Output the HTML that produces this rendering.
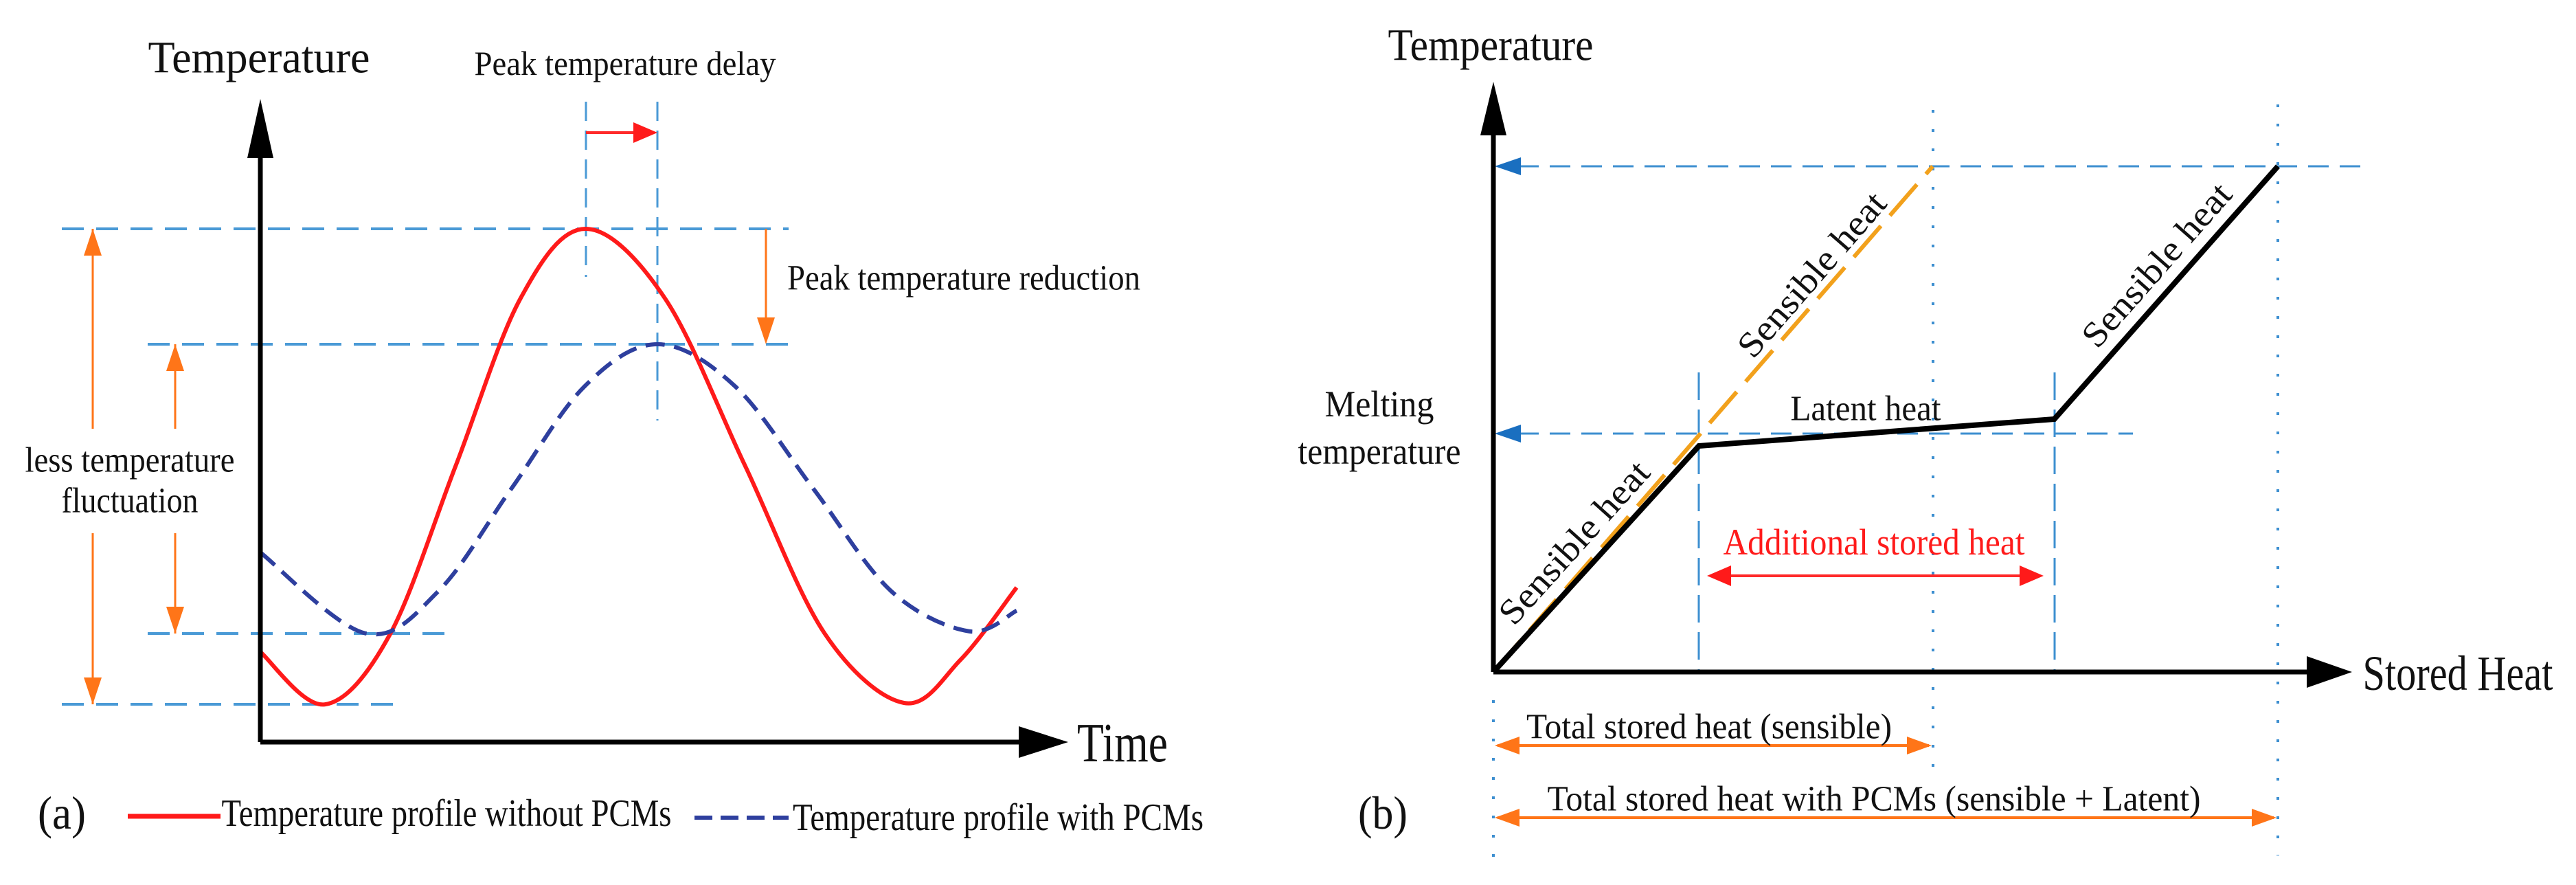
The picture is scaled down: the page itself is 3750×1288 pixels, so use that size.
<!DOCTYPE html>
<html><head><meta charset="utf-8"><style>
html,body{margin:0;padding:0;background:#fff;}
svg{display:block;font-family:"Liberation Serif",serif;}
text{font-family:"Liberation Serif",serif;}
</style></head><body>
<svg id="fig" width="3750" height="1288" viewBox="0 0 3750 1288">
<g id="panelA"></g>
<g id="panelB"></g>
</svg>
<script>
// ---- Panel (a) data ----
const timeNoPcm = [0, 0.85, 1.71, 2.58, 3.44, 4.3, 5.35, 6.41, 7.46, 8.51, 9.26, 10];
const tempNoPcm = [17.5, 7.3, 20.8, 53.5, 86.1, 99.6, 86.1, 53.6, 21.1, 7.6, 16, 30];
const timePcm = [0, 1.39, 2.355, 3.32, 4.285, 5.25, 6.28, 7.31, 8.34, 9.37, 10];
const tempPcm = [36.8, 21.1, 29.3, 49.2, 69, 77.2, 69, 49.2, 29.3, 21.5, 25.5];
const legendLabels = ["Temperature profile without PCMs", "Temperature profile with PCMs"];
// ---- Panel (b) data ----
const heatPcm = [0, 2.62, 7.15, 10];
const tempHeatPcm = [0, 44.7, 50, 100];
const heatSensible = [0, 5.6];
const tempHeatSensible = [0, 100];

const NS = "http://www.w3.org/2000/svg";
function mk(parent, tag, attrs, text) {
  const e = document.createElementNS(NS, tag);
  for (const k in attrs) e.setAttribute(k, attrs[k]);
  if (text !== undefined) e.textContent = text;
  parent.appendChild(e);
  return e;
}
function txt(parent, x, y, s, size, w, name, fill, rot) {
  const a = {x: x, y: y, "font-size": size, "text-anchor": "middle", "dominant-baseline": "central", fill: fill || "#111", "font-family": "Liberation Serif, serif"};
  if (w) { a.textLength = w; a.lengthAdjust = "spacingAndGlyphs"; }
  if (rot) a.transform = "rotate(" + rot + " " + x + " " + y + ")";
  const t = mk(parent, "text", a, s);
  
  
  return t;
}
function line(parent, x1, y1, x2, y2, stroke, sw, dash, name) {
  const a = {x1: x1, y1: y1, x2: x2, y2: y2, stroke: stroke, "stroke-width": sw};
  if (dash) a["stroke-dasharray"] = dash;
  const l = mk(parent, "line", a);
  
  
  return l;
}
function tri(parent, pts, fill, name) {
  const p = mk(parent, "polygon", {points: pts, fill: fill});
  
  
}
function spline(pts) {
  let d = "M" + pts[0][0] + "," + pts[0][1];
  for (let i = 0; i < pts.length - 1; i++) {
    const p0 = pts[Math.max(0, i - 1)], p1 = pts[i], p2 = pts[i + 1], p3 = pts[Math.min(pts.length - 1, i + 2)];
    const c1x = p1[0] + (p2[0] - p0[0]) / 6, c1y = p1[1] + (p2[1] - p0[1]) / 6;
    const c2x = p2[0] - (p3[0] - p1[0]) / 6, c2y = p2[1] - (p3[1] - p1[1]) / 6;
    d += " C" + c1x + "," + c1y + " " + c2x + "," + c2y + " " + p2[0] + "," + p2[1];
  }
  return d;
}

// ===== Panel A =====
const A = document.getElementById("panelA");
const ax = t => 379 + t * 110.1;
const ay = v => 1080 - v * 7.5;
const LB = "#4a9ad6";
line(A, 90, 333, 1148, 333, LB, 4, "32 18", "peak-guide-no-pcm");
line(A, 215, 501, 1148, 501, LB, 4, "32 18", "peak-guide-pcm");
line(A, 215, 922, 658, 922, LB, 4, "32 18", "min-guide-pcm");
line(A, 90, 1025, 586, 1025, LB, 4, "32 18", "min-guide-no-pcm");
line(A, 853, 148, 853, 403, LB, 3, "28 14", "peak-time-guide-no-pcm");
line(A, 957, 148, 957, 612, LB, 3, "28 14", "peak-time-guide-pcm");
line(A, 853, 193, 925, 193, "#ff2a2a", 4, null, "delay-arrow-shaft");
tri(A, "957,193 922,178 922,208", "#ff1a1a", "delay-arrow-head");
line(A, 135, 1025, 135, 776, "#ff7518", 3, null, "fluct-arrow-outer-down");
line(A, 135, 333, 135, 624, "#ff7518", 3, null, "fluct-arrow-outer-up");
tri(A, "135,333 122,372 148,372", "#ff7518", "fluct-outer-head-top");
tri(A, "135,1025 122,986 148,986", "#ff7518", "fluct-outer-head-bottom");
line(A, 255, 922, 255, 776, "#ff7518", 3, null, "fluct-arrow-inner-down");
line(A, 255, 501, 255, 624, "#ff7518", 3, null, "fluct-arrow-inner-up");
tri(A, "255,501 242,540 268,540", "#ff7518", "fluct-inner-head-top");
tri(A, "255,922 242,883 268,883", "#ff7518", "fluct-inner-head-bottom");
line(A, 1115, 333, 1115, 470, "#ff7518", 3, null, "reduction-arrow");
tri(A, "1115,501 1102,462 1128,462", "#ff7518", "reduction-arrow-head");
const redPts = timeNoPcm.map((t, i) => [ax(t), ay(tempNoPcm[i])]);
const bluePts = timePcm.map((t, i) => [ax(t), ay(tempPcm[i])]);
const rc = mk(A, "path", {d: spline(redPts), fill: "none", stroke: "#ff1a1a", "stroke-width": 6});


const bc = mk(A, "path", {d: spline(bluePts), fill: "none", stroke: "#2e3f9e", "stroke-width": 6, "stroke-dasharray": "28 14"});


line(A, 379, 1080, 1490, 1080, "#000", 7, null, "time-axis");
tri(A, "1555,1080 1483,1057 1483,1103", "#000", "time-axis-arrow");
line(A, 379, 1080, 379, 210, "#000", 7, null, "temperature-axis");
tri(A, "379,144 360,230 398,230", "#000", "temperature-axis-arrow");
txt(A, 377, 84, "Temperature", 66, 323, "y-axis-title-a");
txt(A, 910, 92, "Peak temperature delay", 50, 439, "peak-delay-label");
txt(A, 1403, 405, "Peak temperature reduction", 52, 514, "peak-reduction-label");
txt(A, 189, 670, "less temperature", 52, 305, "fluctuation-label-line1");
txt(A, 189, 729, "fluctuation", 52, 199, "fluctuation-label-line2");
txt(A, 1634, 1082, "Time", 80, 132, "x-axis-title-a");
txt(A, 90, 1183, "(a)", 68, 70, "panel-a-label");
line(A, 186, 1188, 321, 1188, "#ff1a1a", 7, null, "legend-swatch-no-pcm");
txt(A, 650, 1184, legendLabels[0], 56, 655, "legend-label-no-pcm");
line(A, 1011, 1190, 1148, 1190, "#2e3f9e", 6, "26 12", "legend-swatch-pcm");
txt(A, 1453, 1190, legendLabels[1], 56, 598, "legend-label-pcm");

// ===== Panel B =====
const B = document.getElementById("panelB");
const bx = h => 2174 + h * 114.2;
const by = v => 978 - v * 7.36;
const BB = "#3d8fd0";
line(B, 2814, 160, 2814, 1122, BB, 4, "4 24", "dotted-sensible-total");
line(B, 3316, 152, 3316, 1245, BB, 4, "4 24", "dotted-pcm-total");
line(B, 2174, 1019, 2174, 1249, BB, 4, "4 24", "dotted-origin");
line(B, 2210, 242, 3436, 242, BB, 3, "30 16", "max-temp-guide");
line(B, 2210, 631, 3105, 631, BB, 3, "30 16", "melting-temp-guide");
tri(B, "2176,242 2214,229 2214,255", "#1a6fc0", "max-temp-arrow");
tri(B, "2176,631 2214,618 2214,644", "#1a6fc0", "melting-temp-arrow");
line(B, 2473, 542, 2473, 978, BB, 3, "40 14", "melt-start-guide");
line(B, 2991, 542, 2991, 978, BB, 3, "40 14", "melt-end-guide");
const op = heatSensible.map((h, i) => bx(h) + "," + by(tempHeatSensible[i])).join(" ");
const ol = mk(B, "polyline", {points: op, fill: "none", stroke: "#f2a11c", "stroke-width": 6, "stroke-dasharray": "60 20"});


const kp = heatPcm.map((h, i) => bx(h) + "," + by(tempHeatPcm[i])).join(" ");
const kl = mk(B, "polyline", {points: kp, fill: "none", stroke: "#000", "stroke-width": 8, "stroke-linejoin": "miter"});


line(B, 2174, 978, 3365, 978, "#000", 7, null, "stored-heat-axis");
tri(B, "3424,978 3358,955 3358,1001", "#000", "stored-heat-axis-arrow");
line(B, 2174, 978, 2174, 190, "#000", 7, null, "temperature-axis-b");
tri(B, "2174,119 2155,197 2193,197", "#000", "temperature-axis-b-arrow");
line(B, 2515, 838, 2945, 838, "#ff2a2a", 4, null, "additional-heat-arrow");
tri(B, "2485,838 2520,823 2520,853", "#ff1a1a", "additional-heat-head-left");
tri(B, "2975,838 2940,823 2940,853", "#ff1a1a", "additional-heat-head-right");
line(B, 2180, 1085, 2808, 1085, "#ff7518", 4, null, "total-sensible-arrow");
tri(B, "2176,1085 2212,1072 2212,1098", "#ff7518", "total-sensible-head-left");
tri(B, "2812,1085 2776,1072 2776,1098", "#ff7518", "total-sensible-head-right");
line(B, 2180, 1190, 3310, 1190, "#ff7518", 4, null, "total-pcm-arrow");
tri(B, "2176,1190 2212,1177 2212,1203", "#ff7518", "total-pcm-head-left");
tri(B, "3314,1190 3278,1177 3278,1203", "#ff7518", "total-pcm-head-right");
txt(B, 2170, 66, "Temperature", 66, 299, "y-axis-title-b");
txt(B, 3578, 980, "Stored Heat", 72, 277, "x-axis-title-b");
txt(B, 2008, 588, "Melting", 54, 159, "melting-label-line1");
txt(B, 2008, 657, "temperature", 54, 237, "melting-label-line2");
txt(B, 2716, 595, "Latent heat", 52, 219, "latent-heat-label");
txt(B, 2292, 790, "Sensible heat", 52, 300, "sensible-heat-label-1", "#111", -48);
txt(B, 2638, 400, "Sensible heat", 52, 300, "sensible-heat-label-2", "#111", -49);
txt(B, 3140, 386, "Sensible heat", 52, 300, "sensible-heat-label-3", "#111", -48.5);
txt(B, 2728, 789, "Additional stored heat", 54, 439, "additional-heat-label", "#ff1a1a");
txt(B, 2488, 1058, "Total stored heat (sensible)", 52, 532, "total-sensible-label");
txt(B, 2013, 1183, "(b)", 68, 72, "panel-b-label");
txt(B, 2728, 1163, "Total stored heat with PCMs (sensible + Latent)", 52, 951, "total-pcm-label");
</script>
</body></html>
